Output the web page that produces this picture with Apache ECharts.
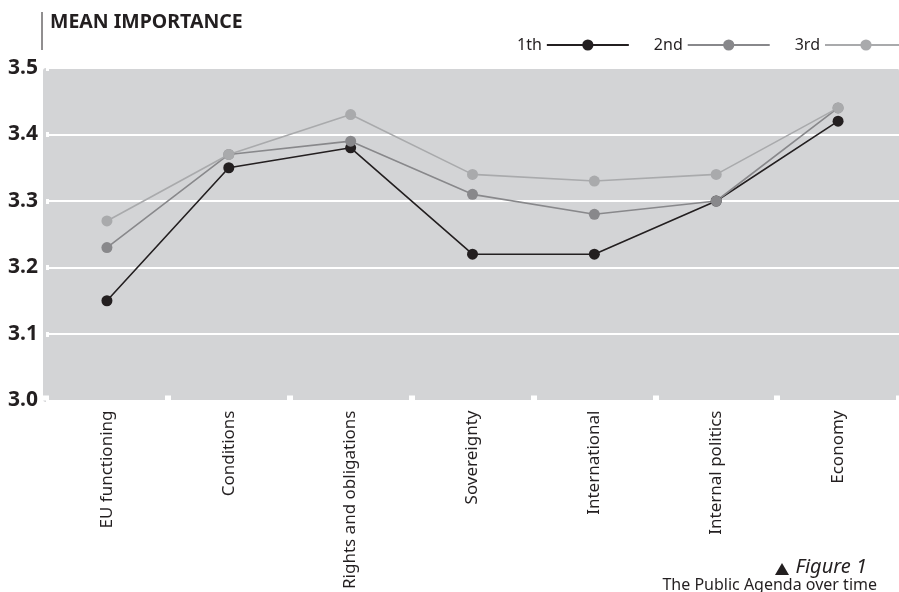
<!DOCTYPE html>
<html>
<head>
<meta charset="utf-8">
<script src="https://cdn.jsdelivr.net/npm/echarts@6/dist/echarts.min.js"></script>
<style>
  html, body { margin: 0; padding: 0; background: #fff; }
  #chart { width: 899px; height: 592px; }
</style>
</head>
<body>
<div id="chart"></div>
<script>
var categories = ['EU functioning', 'Conditions', 'Rights and obligations', 'Sovereignty', 'International', 'Internal politics', 'Economy'];
var first = [3.15, 3.35, 3.38, 3.22, 3.22, 3.30, 3.42];
var second = [3.23, 3.37, 3.39, 3.31, 3.28, 3.30, 3.44];
var third = [3.27, 3.37, 3.43, 3.34, 3.33, 3.34, 3.44];
var yTicks = ['3.0', '3.1', '3.2', '3.3', '3.4', '3.5'];

var font = '"Noto Sans", "Open Sans", sans-serif';

function lineSeries(name, data, color) {
    return {
        name: name,
        type: 'line',
        data: data,
        symbol: 'circle',
        symbolSize: 11,
        itemStyle: { color: color },
        lineStyle: { color: color, width: 1.6 },
        z: 5
    };
}

var chart = echarts.init(document.getElementById('chart'));

chart.setOption({
    animation: false,
    textStyle: { fontFamily: font },
    grid: {
        left: 46,
        right: 0,
        top: 68,
        bottom: 190
    },
    legend: {
        right: -14,
        top: 32,
        align: 'right',
        itemWidth: 82,
        itemHeight: 14,
        itemGap: 24,
        lineStyle: { width: 2 },
        textStyle: { fontSize: 16, color: '#231f20', fontFamily: font, padding: [0, 0, 0, 0] },
        data: ['1th', '2nd', '3rd']
    },
    xAxis: {
        type: 'category',
        data: categories,
        boundaryGap: true,
        axisLine: { show: false },
        axisTick: {
            show: true,
            inside: true,
            length: 5,
            lineStyle: { color: '#ffffff', width: 6 }
        },
        axisLabel: {
            rotate: 90,
            margin: 10,
            fontSize: 17,
            color: '#231f20',
            fontFamily: font
        }
    },
    yAxis: {
        type: 'value',
        min: 3.0,
        max: 3.5,
        interval: 0.1,
        axisLine: { show: false },
        axisTick: {
            show: true,
            inside: true,
            length: 3,
            lineStyle: { color: '#ffffff', width: 5 }
        },
        splitLine: { lineStyle: { color: '#ffffff', width: 2 } },
        axisLabel: {
            margin: 8,
            fontSize: 21,
            fontWeight: 'bold',
            color: '#231f20',
            fontFamily: font,
            padding: [4, 0, 0, 0],
            formatter: function (v) {
                return yTicks[Math.round((v - 3.0) * 10)];
            }
        }
    },
    graphic: [
        {
            type: 'rect',
            z: -10,
            silent: true,
            shape: { x: 43, y: 68, width: 856, height: 334, r: 3 },
            style: { fill: '#d3d4d6' }
        },
        {
            type: 'line',
            shape: { x1: 42, y1: 12, x2: 42, y2: 50 },
            style: { stroke: '#231f20', lineWidth: 1 }
        },
        {
            type: 'text',
            left: 50,
            top: 12,
            style: {
                text: 'MEAN IMPORTANCE',
                font: 'bold 19.5px ' + font,
                fill: '#231f20'
            }
        },
        {
            type: 'polygon',
            shape: { points: [[775, 575], [789, 575], [782, 563]] },
            style: { fill: '#231f20' }
        },
        {
            type: 'text',
            right: 32,
            top: 557,
            style: {
                text: 'Figure 1',
                font: 'italic 20px ' + font,
                fill: '#231f20'
            }
        },
        {
            type: 'text',
            right: 22,
            top: 577,
            style: {
                text: 'The Public Agenda over time',
                font: '16px ' + font,
                fill: '#231f20'
            }
        }
    ],
    series: [
        lineSeries('1th', first, '#231f20'),
        lineSeries('2nd', second, '#88888b'),
        lineSeries('3rd', third, '#a9aaac')
    ]
});
</script>
</body>
</html>
